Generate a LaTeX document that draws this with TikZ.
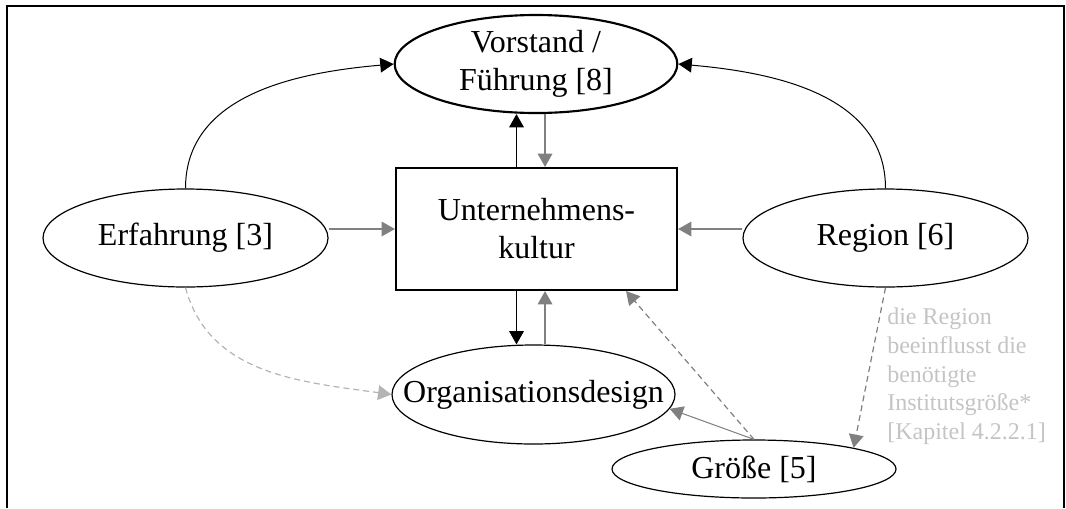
\documentclass[tikz,border=0pt]{standalone}
\usepackage{fontspec}
\setmainfont{Liberation Serif}
\usetikzlibrary{arrows.meta,shapes.geometric}
\tikzset{>={Triangle[width=11pt,length=10pt]}}
\definecolor{midgray}{HTML}{808080}
\definecolor{lightgray}{HTML}{B4B4B4}
\definecolor{notegray}{HTML}{C4C4C4}
\tikzset{
  oval/.style={draw, ellipse, inner sep=0pt, line width=0.9pt},
  grayarrow/.style={->, draw=midgray, fill=midgray, line width=1pt},
  dasharrow/.style={->, draw=midgray, line width=0.9pt, dash pattern=on 4.5pt off 3pt},
}
\begin{document}
\begin{tikzpicture}[x=0.75pt, y=-0.75pt, font=\fontsize{24}{28.5}\selectfont]
\useasboundingbox (0,0) rectangle (1066,508);

% frame, open at the bottom
\draw[line width=1.6pt] (7.2,508) -- (7.2,6.2) -- (1064,6.2) -- (1064,508);

\node[oval, line width=1.6pt, minimum width=212pt, minimum height=73.5pt,
  label={[align=center]center:Vorstand /\\Führung [8]}] (vorstand) at (536,64) {};
\node[draw, line width=1.6pt, minimum width=210.75pt, minimum height=91.5pt,
  align=center] (kultur) at (536.5,229) {Unternehmens-\\kultur};
\node[oval, minimum width=213.75pt, minimum height=73.5pt,
  label=center:{Erfahrung [3]}] (erf) at (185.5,238) {};
\node[oval, minimum width=213.75pt, minimum height=73.5pt,
  label=center:{Region [6]}] (region) at (885.5,238) {};
\node[oval, minimum width=212.25pt, minimum height=74.25pt,
  label=center:{Organisationsdesign}] (org) at (533.5,394.5) {};
\node[oval, minimum width=213pt, minimum height=43.5pt,
  label=center:{Größe [5]}] (groesse) at (754,469) {};

\node[anchor=north west, inner sep=0pt, align=left, text=notegray,
  font=\fontsize{18}{21.5}\selectfont] (note) at (887,308)
  {die Region\\beeinflusst die\\benötigte\\Institutsgröße*\\{[}Kapitel 4.2.2.1]};

\coordinate (kupL) at ([xshift=-15pt]kultur.north);
\coordinate (kupR) at ([xshift=6.4pt]kultur.north);
\coordinate (kdnL) at ([xshift=-15pt]kultur.south);
\coordinate (kdnR) at ([xshift=6.4pt]kultur.south);

\draw[->, line width=0.75pt] (erf.north) to[out=90, in=185] (vorstand.west);
\draw[->, line width=0.75pt] (region.north) to[out=90, in=-5] (vorstand.east);

\draw[->, line width=1pt] (kupL) -- (kupL |- vorstand.south);
\draw[grayarrow] (kupR |- vorstand.south) -- (kupR);
\draw[->, line width=1pt] (kdnL) -- (kdnL |- org.north);
\draw[grayarrow] (kdnR |- org.north) -- (kdnR);

\draw[grayarrow] (erf.east |- kultur.west) -- (kultur.west);
\draw[grayarrow] (region.west |- kultur.east) -- (kultur.east);

\draw[grayarrow, line width=0.75pt] (groesse.north) -- (org.-6);
\draw[dasharrow] (groesse.north) -- ([xshift=-39pt]kultur.south east);
\draw[dasharrow] (region.south) -- (groesse.12);
\draw[dasharrow, draw=lightgray] (erf.south) to[out=-75, in=172] (org.west);
\end{tikzpicture}
\end{document}
